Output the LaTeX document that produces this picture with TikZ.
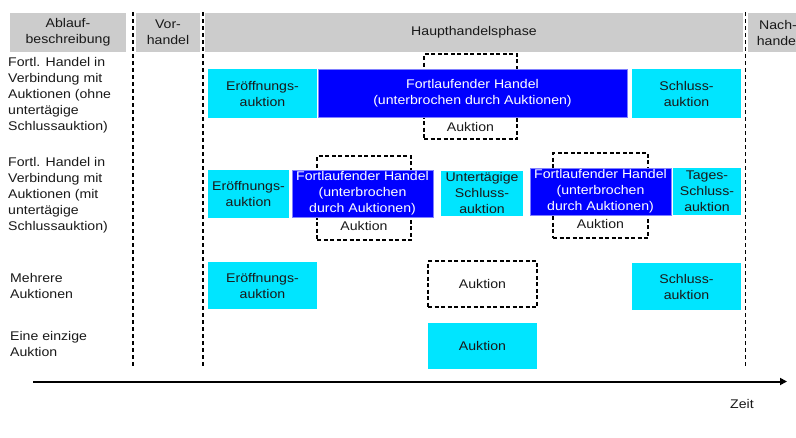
\documentclass[tikz,border=0pt]{standalone}
\usepackage{fontspec}
\setmainfont{Liberation Sans}[FakeStretch=1.12]
\usetikzlibrary{arrows.meta}
\definecolor{hdrgray}{RGB}{204,204,204}
\definecolor{cyanbox}{RGB}{0,229,255}
\definecolor{bluebox}{RGB}{0,0,255}
\definecolor{blueedge}{RGB}{128,128,255}
\definecolor{txt}{RGB}{25,25,25}
\begin{document}
\begin{tikzpicture}[x=1pt,y=-1pt,
  every node/.style={font=\fontsize{12.6}{16}\selectfont, align=center, inner sep=0pt, text=txt},
  hdr/.style={fill=hdrgray},
  cy/.style={fill=cyanbox},
  bl/.style={fill=bluebox, draw=blueedge, line width=0.8pt, text=white},
  dbox/.style={draw=black, line width=1.6pt, dash pattern=on 4pt off 2.5pt},
  vline/.style={draw=black, line width=1.5pt, dash pattern=on 4pt off 3pt},
  lbl/.style={anchor=west, align=left}]
\useasboundingbox (0,0) rectangle (796,437);
\clip (0,0) rectangle (796,437);
% header
\node[hdr, minimum width=116, minimum height=39] (h1) at (68,32.5) {Ablauf-\\beschreibung};
\node[hdr, minimum width=64, minimum height=39] (h2) at (168,32.5) {Vor-\\handel};
\node[hdr, minimum width=538, minimum height=39] (h3) at (474,32.5) {Haupthandelsphase};
\node[hdr, minimum width=60, minimum height=39] (h4) at (778,32.5) {Nach-\\handel};
% vertical dashed lines
\coordinate (v1t) at (133,12); \coordinate (v1b) at (133,366);
\coordinate (v2t) at (203,12); \coordinate (v2b) at (203,366);
\coordinate (v3t) at (745.5,12); \coordinate (v3b) at (745.5,366);
\draw[vline] (v1t) -- (v1b);
\draw[vline] (v2t) -- (v2b);
\draw[vline] (v3t) -- (v3b);
% row labels
\node[lbl] (l1) at (8,95.5) {Fortl. Handel in\\Verbindung mit\\Auktionen (ohne\\untertägige\\Schlussauktion)};
\node[lbl] (l2) at (8,195.5) {Fortl. Handel in\\Verbindung mit\\Auktionen (mit\\untertägige\\Schlussauktion)};
\node[lbl] (l3) at (10,286) {Mehrere\\Auktionen};
\node[lbl] (l4) at (10,343.5) {Eine einzige\\Auktion};
% row 1
\node[cy, minimum width=109, minimum height=49] (r1a) at (262.5,93.5) {Eröffnungs-\\auktion};
\node[dbox, minimum width=93, minimum height=85] (r1d) at (470.5,96.5) {};
\node (r1dt) at (470.5,127) {Auktion};
\node[bl, minimum width=309, minimum height=48] (r1b) at (472.5,93) {Fortlaufender Handel\\(unterbrochen durch Auktionen)};
\node[cy, minimum width=109, minimum height=49] (r1c) at (686.5,93.5) {Schluss-\\auktion};
% row 2
\node[cy, minimum width=81, minimum height=48] (r2a) at (248.5,194) {Eröffnungs-\\auktion};
\node[dbox, minimum width=94, minimum height=84] (r2d1) at (364,198) {};
\node (r2d1t) at (364,226) {Auktion};
\node[bl, minimum width=141, minimum height=47] (r2b1) at (362.5,193.5) {Fortlaufender Handel\\(unterbrochen\\durch Auktionen)};
\node[cy, minimum width=82, minimum height=45] (r2c) at (482,193) {Untertägige\\Schluss-\\auktion};
\node[dbox, minimum width=95, minimum height=85] (r2d2) at (600.5,195.5) {};
\node (r2d2t) at (600.5,224) {Auktion};
\node[bl, minimum width=141, minimum height=47] (r2b2) at (600.5,191.5) {Fortlaufender Handel\\(unterbrochen\\durch Auktionen)};
\node[cy, minimum width=68, minimum height=47] (r2e) at (707,191.5) {Tages-\\Schluss-\\auktion};
% row 3
\node[cy, minimum width=109, minimum height=47] (r3a) at (262.5,285.5) {Eröffnungs-\\auktion};
\node[dbox, minimum width=109, minimum height=46] (r3d) at (482.5,284) {Auktion};
\node[cy, minimum width=109, minimum height=47] (r3c) at (686.5,286.5) {Schluss-\\auktion};
% row 4
\node[cy, minimum width=109, minimum height=46] (r4) at (482.5,346) {Auktion};
% time axis
\coordinate (ax0) at (33,381.5);
\coordinate (ax1) at (787,381.5);
\draw[line width=2pt, -{Triangle[length=7pt,width=7pt]}] (ax0) -- (ax1);
\node (zeit) at (742,404) {Zeit};
\end{tikzpicture}
\end{document}
